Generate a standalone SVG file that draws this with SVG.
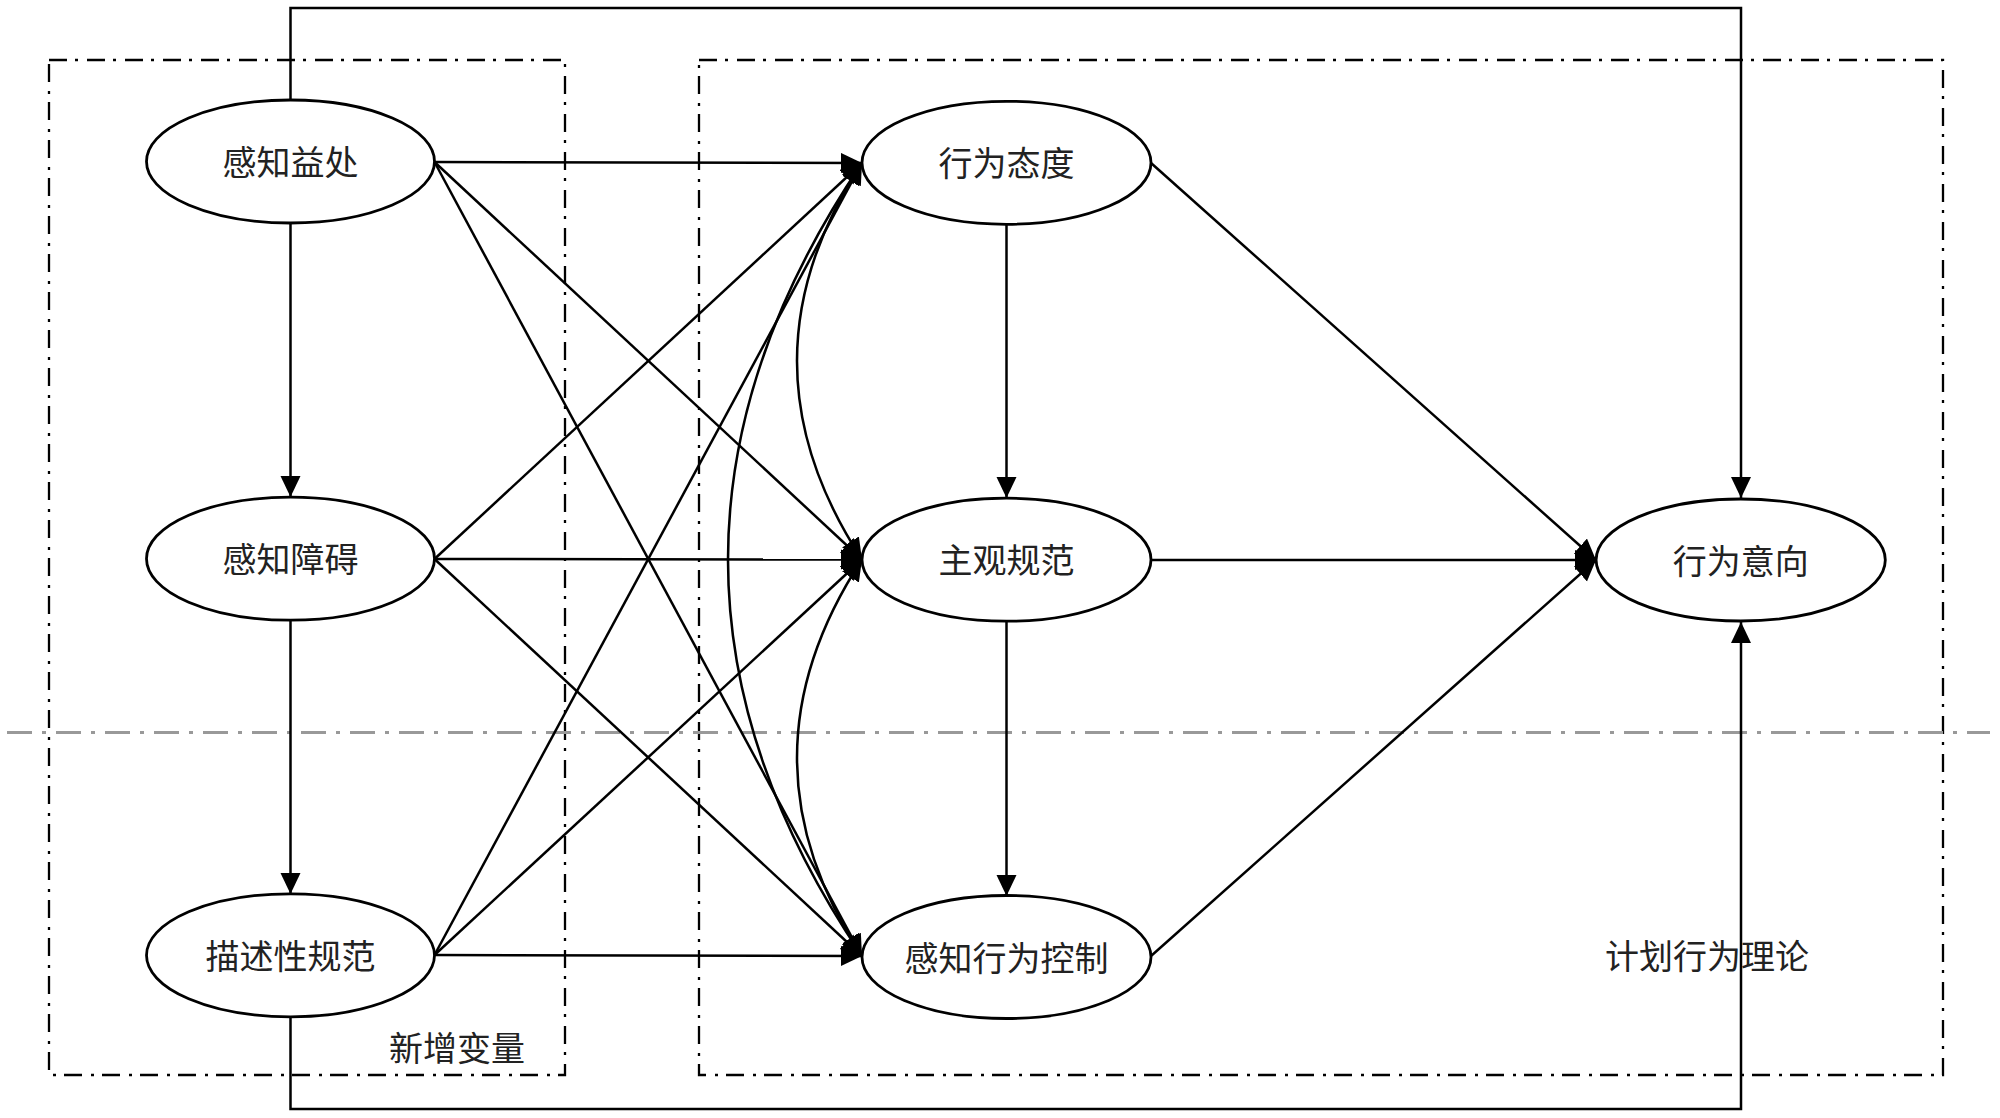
<svg xmlns="http://www.w3.org/2000/svg" width="2000" height="1118" viewBox="0 0 2000 1118">
<style>
.node ellipse{fill:#fff;stroke:#000;stroke-width:2.8}
.node text,.label{font-family:"Noto Sans CJK SC","Liberation Sans",sans-serif;font-size:34px;fill:#222;text-anchor:middle;dominant-baseline:central}
.box{fill:none;stroke:#000;stroke-width:2.3;stroke-dasharray:18 8 3 9}
.sep{fill:none;stroke:#999;stroke-width:3;stroke-dasharray:25 10 4 10}
#connectors path,#connectors line{fill:none;stroke:#000;stroke-width:2.5}
.arr{marker-end:url(#ah)}
.bi{marker-end:url(#ah);marker-start:url(#ah)}
</style>
<defs>
<marker id="ah" markerUnits="userSpaceOnUse" markerWidth="23" markerHeight="21" refX="21" refY="10" orient="auto-start-reverse">
<path d="M0,0 L21,10 L0,20 z" fill="#000"/>
</marker>
</defs>
<rect width="2000" height="1118" fill="#fff"/>
<g id="frames">
<rect class="box" x="49" y="60" width="516" height="1015"/>
<rect class="box" x="699" y="60" width="1244" height="1015"/>
<line class="sep" x1="7" y1="732.5" x2="1990" y2="732.5"/>
</g>
<g id="connectors">
<path class="arr" d="M290.5,100 V8 H1741 V498"/>
<path class="arr" d="M290.5,1017 V1109 H1741 V622"/>
<line class="arr" x1="290.5" y1="223" x2="290.5" y2="497"/>
<line class="arr" x1="290.5" y1="620" x2="290.5" y2="894"/>
<line class="arr" x1="1006.5" y1="224" x2="1006.5" y2="498"/>
<line class="arr" x1="1006.5" y1="621" x2="1006.5" y2="896"/>
<line class="arr" x1="434.5" y1="162" x2="862" y2="163"/>
<line class="arr" x1="434.5" y1="162" x2="862" y2="559.5"/>
<line class="arr" x1="434.5" y1="162" x2="862" y2="956"/>
<line class="arr" x1="434.5" y1="559" x2="862" y2="163"/>
<line class="arr" x1="434.5" y1="559" x2="862" y2="559.5"/>
<line class="arr" x1="434.5" y1="559" x2="862" y2="956"/>
<line class="arr" x1="434.5" y1="955" x2="862" y2="163"/>
<line class="arr" x1="434.5" y1="955" x2="862" y2="559.5"/>
<line class="arr" x1="434.5" y1="955" x2="862" y2="956"/>
<path class="bi" d="M862,163 Q732,361 862,559.5"/>
<path class="bi" d="M862,559.5 Q732,758 862,956"/>
<path class="bi" d="M862,163 Q594,560 862,956"/>
<line class="arr" x1="1151" y1="163" x2="1596" y2="560"/>
<line class="arr" x1="1151" y1="560" x2="1596" y2="560"/>
<line class="arr" x1="1151" y1="956" x2="1596" y2="560"/>
</g>
<g id="n1" class="node"><ellipse cx="290.5" cy="161.5" rx="144" ry="61.5"/><text x="290.5" y="160.5">感知益处</text></g>
<g id="n2" class="node"><ellipse cx="290.5" cy="558.7" rx="144" ry="61.5"/><text x="290.5" y="557.7">感知障碍</text></g>
<g id="n3" class="node"><ellipse cx="290.5" cy="955.3" rx="144" ry="61.5"/><text x="290.5" y="954.3">描述性规范</text></g>
<g id="n4" class="node"><ellipse cx="1006.5" cy="162.8" rx="144.5" ry="61.5"/><text x="1006.5" y="161.8">行为态度</text></g>
<g id="n5" class="node"><ellipse cx="1006.5" cy="559.7" rx="144.5" ry="61.5"/><text x="1006.5" y="558.7">主观规范</text></g>
<g id="n6" class="node"><ellipse cx="1006.5" cy="957" rx="144.5" ry="61.5"/><text x="1006.5" y="956">感知行为控制</text></g>
<g id="n7" class="node"><ellipse cx="1740.7" cy="560" rx="144.6" ry="61"/><text x="1740.7" y="559">行为意向</text></g>
<text class="label" x="457" y="1046">新增变量</text>
<text class="label" x="1707" y="954">计划行为理论</text>
</svg>
